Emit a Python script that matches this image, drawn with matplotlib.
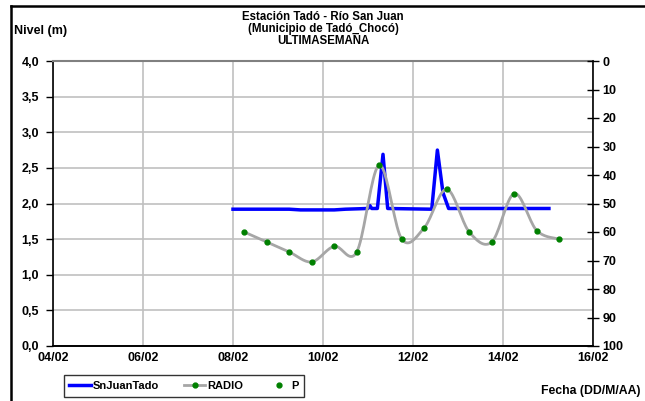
import numpy as np
import pandas as pd
import matplotlib
matplotlib.use("Agg")
import matplotlib.pyplot as plt
import matplotlib.dates as mdates
from matplotlib.lines import Line2D

plt.rcParams['font.family'] = ['Liberation Sans', 'DejaVu Sans']
plt.rcParams['font.weight'] = 'bold'

# nivel (m) - SnJuanTado
nivel_t = ['2012-02-08 00:00', '2012-02-09 06:00', '2012-02-09 12:00', '2012-02-10 06:00',
           '2012-02-10 12:00', '2012-02-11 00:00', '2012-02-11 01:00', '2012-02-11 02:00',
           '2012-02-11 05:00', '2012-02-11 08:00', '2012-02-11 10:30', '2012-02-12 10:00',
           '2012-02-12 13:00', '2012-02-12 16:00', '2012-02-12 19:00', '2012-02-15 00:30']
nivel_v = [1.92, 1.92, 1.91, 1.91,
           1.92, 1.93, 1.97, 1.93,
           1.93, 2.69, 1.93, 1.92,
           2.75, 2.15, 1.93, 1.93]

# RADIO / P (eje derecho, 0-100 invertido)
radio_t = pd.date_range('2012-02-08 06:00', '2012-02-15 06:00', freq='12h')
radio_v = [60, 63.5, 67, 70.5, 65, 67, 36.5, 62.5, 58.5, 45, 60, 63.5, 46.5, 59.5, 62.5]

xticks = pd.date_range('2012-02-04', '2012-02-16', freq='2D')


def suave(x, y, n=20):
    # curva suavizada tipo Excel (bezier / catmull-rom)
    x = np.asarray(x, float)
    y = np.asarray(y, float)
    px = np.concatenate([[x[0]], x, [x[-1]]])
    py = np.concatenate([[y[0]], y, [y[-1]]])
    xs, ys = [], []
    t = np.linspace(0, 1, n)
    for i in range(1, len(px) - 2):
        p0, p1, p2, p3 = px[i - 1], px[i], px[i + 1], px[i + 2]
        q0, q1, q2, q3 = py[i - 1], py[i], py[i + 1], py[i + 2]
        c1x, c2x = p1 + (p2 - p0) / 6, p2 - (p3 - p1) / 6
        c1y, c2y = q1 + (q2 - q0) / 6, q2 - (q3 - q1) / 6
        b0, b1, b2, b3 = (1 - t) ** 3, 3 * t * (1 - t) ** 2, 3 * t ** 2 * (1 - t), t ** 3
        xs.append(b0 * p1 + b1 * c1x + b2 * c2x + b3 * p2)
        ys.append(b0 * q1 + b1 * c1y + b2 * c2y + b3 * q2)
    return np.concatenate(xs), np.concatenate(ys)


fig = plt.figure(figsize=(6.45, 4.01), dpi=100)
ax = fig.add_axes([53 / 645, 1 - 346 / 401, 540 / 645, 285 / 401])
ax2 = ax.twinx()

nt = mdates.date2num(pd.to_datetime(nivel_t))
ax.plot(nt, nivel_v, color='#0000ff', lw=2.5, solid_joinstyle='round', zorder=3)

rt = mdates.date2num(radio_t)
sx, sy = suave(rt, radio_v)
ax2.plot(sx, sy, color='#a6a6a6', lw=2.0, zorder=2)
ax2.plot(rt, radio_v, 'o', color='#008000', ms=3.5, zorder=4)

ax.set_xlim(mdates.date2num(xticks[0]), mdates.date2num(xticks[-1]))
ax.set_ylim(0, 4)
ax2.set_ylim(100, 0)
ax.set_xticks(mdates.date2num(xticks))
ax.xaxis.set_major_formatter(mdates.DateFormatter('%d/%m'))
ax.set_yticks(np.arange(0, 4.01, 0.5))
ax.set_yticklabels([f'{v:.1f}'.replace('.', ',') for v in np.arange(0, 4.01, 0.5)])
ax2.set_yticks(np.arange(0, 101, 10))

ax.grid(True, color='#c0c0c0', lw=1.2)
ax.set_axisbelow(True)
ax.spines['top'].set_color('#808080')
ax.spines['top'].set_linewidth(1.5)
ax2.spines['top'].set_visible(False)
ax.spines['right'].set_visible(False)
ax2.spines['left'].set_visible(False)
for a in (ax, ax2):
    a.spines['bottom'].set_linewidth(1.2)
ax.spines['left'].set_linewidth(1.2)
ax2.spines['right'].set_linewidth(1.2)

ax.tick_params(axis='y', direction='out', length=5, width=1, labelsize=9, pad=5)
ax.tick_params(axis='x', direction='out', length=0, labelsize=9, pad=4)
ax2.tick_params(axis='y', direction='inout', length=8, width=1, labelsize=9, pad=3)
for lab in ax.get_xticklabels() + ax.get_yticklabels() + ax2.get_yticklabels():
    lab.set_fontweight('bold')

fig.text(323 / 645, 1 - 17 / 401, 'Estación Tadó - Río San Juan', ha='center', va='center', fontsize=8.3, fontweight='bold')
fig.text(323 / 645, 1 - 29 / 401, '(Municipio de Tadó_Chocó)', ha='center', va='center', fontsize=8.3, fontweight='bold')
fig.text(323 / 645, 1 - 41 / 401, 'ULTIMASEMANA', ha='center', va='center', fontsize=8.3, fontweight='bold')
fig.text(14 / 645, 1 - 31 / 401, 'Nivel (m)', ha='left', va='center', fontsize=9, fontweight='bold')
fig.text(541 / 645, 1 - 391 / 401, 'Fecha (DD/M/AA)', ha='left', va='center', fontsize=8.8, fontweight='bold')

handles = [Line2D([], [], color='#0000ff', lw=2.5),
           Line2D([], [], color='#a6a6a6', lw=2.0, marker='o', mfc='#008000', mec='#008000', ms=3.5),
           Line2D([], [], color='#008000', ls='none', marker='o', ms=3.5)]
leg = fig.legend(handles, ['SnJuanTado', 'RADIO', 'P'], ncol=3, loc='center',
                 bbox_to_anchor=(184 / 645, 1 - 386 / 401), frameon=True, fancybox=False,
                 prop={'size': 8, 'weight': 'bold'}, handlelength=1.9, handletextpad=0.15,
                 columnspacing=2.3, borderpad=0.5)
leg.get_frame().set_edgecolor('black')
leg.get_frame().set_linewidth(1.0)
leg._legend_box.sep = 0

# marco exterior
fig.add_artist(Line2D([11 / 645, 11 / 645], [0, 1 - 6 / 401], color='black', lw=1.8, transform=fig.transFigure))
fig.add_artist(Line2D([11 / 645, 1], [1 - 6 / 401, 1 - 6 / 401], color='black', lw=1.8, transform=fig.transFigure))

fig.savefig('out.png', dpi=100)
